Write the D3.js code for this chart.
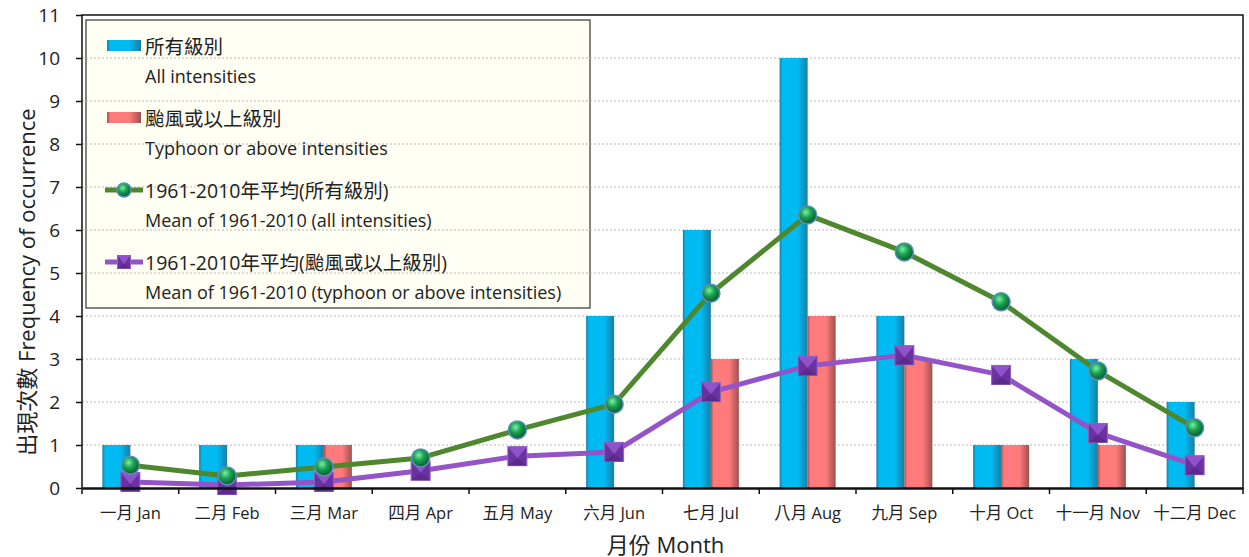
<!DOCTYPE html>
<html>
<head>
<meta charset="utf-8">
<script src="https://cdn.jsdelivr.net/npm/d3@7"></script>
<style>
  body { margin: 0; background: #fff; }
  text { font-family: "Open Sans", "Noto Sans CJK TC", sans-serif; fill: #222; }
</style>
</head>
<body>
<div id="chart"></div>
<script>
/* data */
var months = ["一月 Jan", "二月 Feb", "三月 Mar", "四月 Apr", "五月 May", "六月 Jun",
              "七月 Jul", "八月 Aug", "九月 Sep", "十月 Oct", "十一月 Nov", "十二月 Dec"],
    allCounts = [1, 1, 1, 0, 0, 4, 6, 10, 4, 1, 3, 2],
    typhoonCounts = [0, 0, 1, 0, 0, 0, 3, 4, 3, 1, 1, 0],
    meanAll = [0.53, 0.28, 0.49, 0.7, 1.35, 1.95, 4.53, 6.35, 5.49, 4.33, 2.72, 1.4],
    meanTyphoon = [0.14, 0.07, 0.14, 0.4, 0.74, 0.84, 2.23, 2.84, 3.09, 2.63, 1.28, 0.53],
    yTicks = d3.range(0, 12);

var legendItems = [
    { zh: "所有級別", en: "All intensities", kind: "bar", fill: "url(#gBlue)" },
    { zh: "颱風或以上級別", en: "Typhoon or above intensities", kind: "bar", fill: "url(#gRed)" },
    { zh: "1961-2010年平均(所有級別)", en: "Mean of 1961-2010 (all intensities)", kind: "circle" },
    { zh: "1961-2010年平均(颱風或以上級別)", en: "Mean of 1961-2010 (typhoon or above intensities)", kind: "square" }
];

/* layout */
var W = 1249, H = 557,
    margin = { top: 15, right: 6, bottom: 69, left: 82 },
    innerWidth = W - margin.left - margin.right,
    innerHeight = H - margin.top - margin.bottom,
    barW = 28,
    colGreen = "#4e872d",
    colPurple = "#9553c8";

var svg = d3.select("#chart").append("svg")
    .attr("width", W)
    .attr("height", H);

var defs = svg.append("defs");

function hGrad(id, edge, mid) {
    var g = defs.append("linearGradient").attr("id", id)
        .attr("x1", "0%").attr("x2", "100%").attr("y1", "0%").attr("y2", "0%");
    g.append("stop").attr("offset", "0%").attr("stop-color", edge);
    g.append("stop").attr("offset", "10%").attr("stop-color", mid);
    g.append("stop").attr("offset", "65%").attr("stop-color", mid);
    g.append("stop").attr("offset", "100%").attr("stop-color", edge);
}
hGrad("gBlue", "#1a7ea3", "#00baf2");
hGrad("gRed", "#a05050", "#ff7b7b");

var rg = defs.append("radialGradient").attr("id", "gBall")
    .attr("cx", "40%").attr("cy", "35%").attr("r", "65%");
rg.append("stop").attr("offset", "0%").attr("stop-color", "#7ef0a8");
rg.append("stop").attr("offset", "45%").attr("stop-color", "#1aa352");
rg.append("stop").attr("offset", "100%").attr("stop-color", "#0b5a2c");

var main = svg.append("g")
    .attr("transform", "translate(" + margin.left + "," + margin.top + ")");

/* scales */
var x = d3.scaleBand().domain(months).range([0, innerWidth]),
    y = d3.scaleLinear().domain([0, 11]).range([innerHeight, 0]);

/* legend background (under the grid) */
var lgX = 4, lgY = 5, lgW = 504, lgH = 288;
main.append("rect")
    .attr("x", lgX).attr("y", lgY)
    .attr("width", lgW).attr("height", lgH)
    .attr("fill", "#fffff4")
    .attr("stroke", "#333").attr("stroke-width", 1.2);

/* grid */
main.append("g").attr("class", "grid")
    .selectAll("line")
    .data(yTicks.slice(1, -1))
    .join("line")
    .attr("x1", 0).attr("x2", innerWidth)
    .attr("y1", d => y(d)).attr("y2", d => y(d))
    .attr("stroke", "#b8b8b8")
    .attr("stroke-dasharray", "2,2");

/* bars */
var bars = main.append("g").attr("class", "bars");
bars.selectAll("rect.all")
    .data(allCounts)
    .join("rect")
    .attr("class", "all")
    .attr("x", (d, i) => x(months[i]) + x.bandwidth() / 2 - barW)
    .attr("y", d => y(d))
    .attr("width", barW)
    .attr("height", d => y(0) - y(d))
    .attr("fill", "url(#gBlue)");
bars.selectAll("rect.typ")
    .data(typhoonCounts)
    .join("rect")
    .attr("class", "typ")
    .attr("x", (d, i) => x(months[i]) + x.bandwidth() / 2)
    .attr("y", d => y(d))
    .attr("width", barW)
    .attr("height", d => y(0) - y(d))
    .attr("fill", "url(#gRed)");

/* lines */
var line = d3.line()
    .x((d, i) => x(months[i]) + x.bandwidth() / 2)
    .y(d => y(d));

main.append("path")
    .datum(meanAll)
    .attr("d", line)
    .attr("fill", "none")
    .attr("stroke", colGreen)
    .attr("stroke-width", 5)
    .attr("stroke-linejoin", "round");

main.append("path")
    .datum(meanTyphoon)
    .attr("d", line)
    .attr("fill", "none")
    .attr("stroke", colPurple)
    .attr("stroke-width", 5)
    .attr("stroke-linejoin", "round");

function drawSquare(g, cx, cy, s) {
    var h = s / 2;
    g.append("rect")
        .attr("x", cx - h).attr("y", cy - h)
        .attr("width", s).attr("height", s)
        .attr("fill", "#6a32a0")
        .attr("stroke", "#8e62bd").attr("stroke-width", 1);
    g.append("path")
        .attr("d", "M" + (cx - h) + "," + (cy - h) + "L" + (cx + h) + "," + (cy - h) + "L" + cx + "," + (cy + 2) + "Z")
        .attr("fill", "#9a5ad6").attr("opacity", 0.8);
    g.append("path")
        .attr("d", "M" + (cx - h) + "," + (cy + h) + "L" + (cx + h) + "," + (cy + h) + "L" + cx + "," + (cy + 2) + "Z")
        .attr("fill", "#52257e").attr("opacity", 0.6);
}
function drawBall(g, cx, cy, r) {
    g.append("circle")
        .attr("cx", cx).attr("cy", cy).attr("r", r)
        .attr("fill", "url(#gBall)")
        .attr("stroke", "#5b8fbf").attr("stroke-width", 1.5);
}

var sq = main.append("g").attr("class", "squares");
meanTyphoon.forEach((d, i) => drawSquare(sq, x(months[i]) + x.bandwidth() / 2, y(d), 19));
var balls = main.append("g").attr("class", "balls");
meanAll.forEach((d, i) => drawBall(balls, x(months[i]) + x.bandwidth() / 2, y(d), 9));

/* frame and axes */
main.append("path")
    .attr("d", "M0," + innerHeight + "V0H" + innerWidth + "V" + innerHeight)
    .attr("fill", "none")
    .attr("stroke", "#111")
    .attr("stroke-width", 1.5);

var yAxis = main.append("g")
    .call(d3.axisLeft(y).tickValues(yTicks).tickSize(6).tickFormat(d3.format("d")));
yAxis.select(".domain").remove();
yAxis.selectAll("line").attr("stroke", "#111").attr("stroke-width", 1.5);
yAxis.selectAll("text")
    .attr("x", -22)
    .style("font-size", "19px")
    .style("font-family", "'Open Sans', sans-serif")
    .attr("fill", "#222");

var xAxis = main.append("g")
    .attr("transform", "translate(0," + innerHeight + ")")
    .call(d3.axisBottom(x).tickSize(0).tickPadding(19));
xAxis.select(".domain").attr("stroke", "#111").attr("stroke-width", 2.5);
xAxis.selectAll("text").style("font-size", "16.5px").attr("fill", "#222");
xAxis.selectAll("line.sep")
    .data(d3.range(0, months.length + 1))
    .join("line")
    .attr("class", "sep")
    .attr("x1", d => d * x.step()).attr("x2", d => d * x.step())
    .attr("y1", 0).attr("y2", 6)
    .attr("stroke", "#111").attr("stroke-width", 1.5);

/* axis titles */
svg.append("text")
    .attr("transform", "translate(35,282) rotate(-90)")
    .attr("text-anchor", "middle")
    .style("font-size", "22px")
    .text("出現次數  Frequency of occurrence");

svg.append("text")
    .attr("x", margin.left + innerWidth / 2 + 3)
    .attr("y", 553)
    .attr("text-anchor", "middle")
    .style("font-size", "22px")
    .text("月份 Month");

/* legend contents */
var lg = main.append("g").attr("class", "legend");
legendItems.forEach(function (it, i) {
    var cy = lgY + 26 + i * 72;
    if (it.kind === "bar") {
        lg.append("rect")
            .attr("x", 25).attr("y", cy - 6)
            .attr("width", 34).attr("height", 11)
            .attr("fill", it.fill);
    } else {
        var c = it.kind === "circle" ? colGreen : colPurple;
        lg.append("line")
            .attr("x1", 23).attr("x2", 61)
            .attr("y1", cy).attr("y2", cy)
            .attr("stroke", c).attr("stroke-width", 5);
        if (it.kind === "circle") drawBall(lg, 42, cy, 7);
        else drawSquare(lg, 42, cy, 13);
    }
    lg.append("text")
        .attr("x", 63).attr("y", cy + 8)
        .style("font-size", "19.5px")
        .text(it.zh);
    lg.append("text")
        .attr("x", 63).attr("y", cy + 37)
        .style("font-size", "18px")
        .text(it.en);
});
</script>
</body>
</html>
